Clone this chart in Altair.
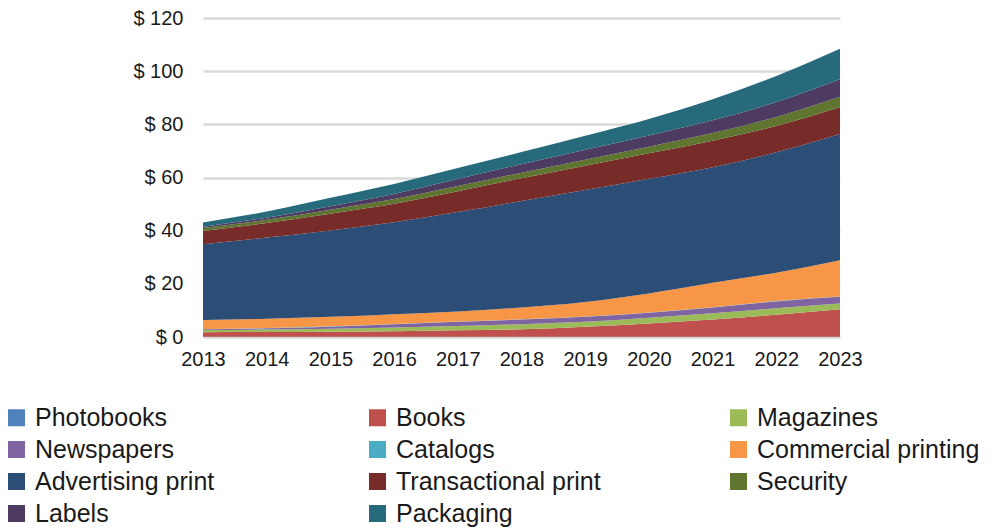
import altair as alt
import pandas as pd

years = [2013, 2014, 2015, 2016, 2017, 2018, 2019, 2020, 2021, 2022, 2023]

series_names = ["Photobooks", "Books", "Magazines", "Newspapers", "Catalogs",
                "Commercial printing", "Advertising print", "Transactional print",
                "Security", "Labels", "Packaging"]
series_colors = ["#4F81BD", "#C0504D", "#9BBB59", "#8064A2", "#4BACC6",
                 "#F79646", "#2C4D75", "#772C2A", "#5F7530", "#4D3B62", "#276A7C"]

photobooks = [0.1, 0.1, 0.1, 0.1, 0.1, 0.1, 0.1, 0.1, 0.1, 0.1, 0.1]
books = [1.7, 1.8, 1.9, 2.1, 2.4, 2.8, 3.8, 5.0, 6.5, 8.3, 10.3]
magazines = [0.8, 0.9, 1.1, 1.4, 1.6, 1.9, 1.8, 2.1, 2.3, 2.4, 2.2]
newspapers = [0.3, 0.5, 0.8, 1.2, 1.6, 1.8, 1.9, 1.9, 2.2, 2.6, 2.5]
catalogs = [0.1, 0.1, 0.1, 0.1, 0.1, 0.1, 0.1, 0.1, 0.1, 0.1, 0.1]
commercial = [3.4, 3.5, 3.6, 3.7, 3.8, 4.4, 5.5, 7.2, 9.2, 10.7, 13.7]
advertising = [28.5, 30.5, 32.5, 34.6, 37.4, 40.1, 42.1, 43.1, 43.5, 45.3, 47.5]
transactional = [5.0, 5.5, 6.3, 6.9, 7.8, 8.5, 9.1, 9.6, 9.9, 9.9, 10.0]
security = [1.1, 1.2, 1.5, 1.8, 2.0, 2.1, 2.3, 2.5, 2.9, 3.4, 4.0]
labels = [0.5, 0.8, 1.3, 1.9, 2.6, 3.2, 3.7, 4.2, 4.8, 5.6, 6.6]
packaging = [1.6, 2.3, 3.2, 3.8, 4.2, 4.6, 5.3, 6.2, 7.9, 9.8, 11.4]

y_ticks = [0, 20, 40, 60, 80, 100, 120]

all_series = [photobooks, books, magazines, newspapers, catalogs, commercial,
              advertising, transactional, security, labels, packaging]

rows = []
for idx, (name, vals) in enumerate(zip(series_names, all_series)):
    for yr, v in zip(years, vals):
        rows.append({"year": yr, "segment": name, "value": v, "order": idx})
df = pd.DataFrame(rows)

FONT = "Liberation Sans"
TEXT = "#1a1a1a"

chart = alt.Chart(df).mark_area(interpolate="monotone").encode(
    x=alt.X("year:Q",
            scale=alt.Scale(domain=[2013, 2023], nice=False, zero=False),
            axis=alt.Axis(values=years, format="d", title=None, grid=False,
                          domain=False, ticks=False, labelPadding=12,
                          labelFontSize=20, labelFont=FONT, labelColor=TEXT,
                          labelFlush=False)),
    y=alt.Y("value:Q", stack="zero",
            scale=alt.Scale(domain=[0, 120], nice=False),
            axis=alt.Axis(values=y_ticks, title=None, domain=False, ticks=False,
                          labelPadding=20, labelFontSize=20, labelFont=FONT,
                          labelColor=TEXT, gridColor="#d9d9d9", gridWidth=2.5,
                          labelExpr="'$ ' + datum.value")),
    color=alt.Color("segment:N",
                    scale=alt.Scale(domain=series_names, range=series_colors),
                    legend=alt.Legend(title=None, orient="none", legendX=-199,
                                      legendY=387, direction="horizontal",
                                      columns=3, gridAlign="all",
                                      columnPadding=107, rowPadding=6,
                                      symbolType="square", symbolSize=289,
                                      symbolStrokeWidth=0, labelFontSize=25,
                                      labelFont=FONT, labelColor=TEXT,
                                      labelOffset=6, labelLimit=0, padding=0)),
    order=alt.Order("order:Q", sort="ascending"),
).properties(
    width=637,
    height=319,
    autosize=alt.AutoSizeParams(type="none"),
    padding={"left": 195, "top": 10, "right": 149, "bottom": 190},
).configure_view(stroke=None)

chart.save("out.html", embed_options={"renderer": "svg", "actions": False})
